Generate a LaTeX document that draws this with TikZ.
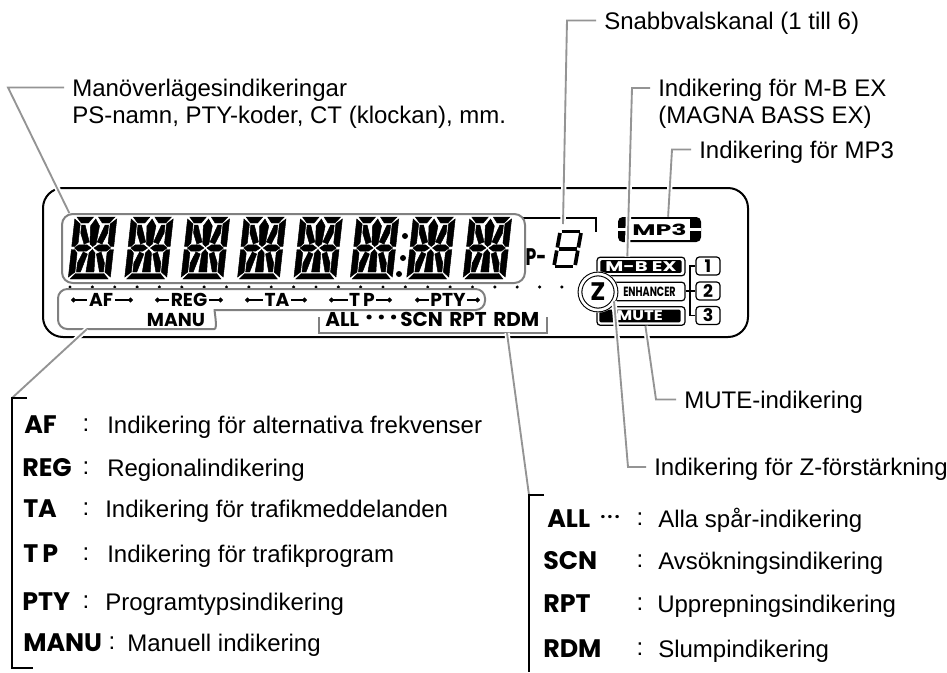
\documentclass[tikz,border=0pt]{standalone}
\usepackage{fontspec}
\setmainfont{Liberation Sans}
\newfontfamily\lcdfont{Poppins}
\usetikzlibrary{arrows.meta,calc}
% one 14-segment character, origin at its top left corner
\newcommand{\lcdchar}{%
  \filldraw[line width=.35pt] (2,0)--(18.5,0)--(14,6)--(7,6)--cycle (23.5,0)--(40,0)--(35,6)--(28,6)--cycle
    (21,2)--(25.5,9)--(24,27)--(21,29.5)--(18,27)--(16.5,9)--cycle
    (0,2)--(6,7)--(6,26)--(3,29.5)--(0,29.5)--cycle (0,32.5)--(3,32.5)--(6,36)--(6,55)--(0,60)--cycle
    (42,2)--(36,7)--(36,26)--(39,29.5)--(42,29.5)--cycle (42,32.5)--(39,32.5)--(36,36)--(36,55)--(42,60)--cycle
    (7.5,8)--(11,8)--(17,25)--(12,27)--(7.5,16)--cycle (34.5,8)--(31,8)--(25,25)--(30,27)--(34.5,16)--cycle
    (3,31)--(7,27.8)--(15,27.8)--(19.5,31)--(15,34.2)--(7,34.2)--cycle (22.5,31)--(27,27.8)--(35,27.8)--(39,31)--(35,34.2)--(27,34.2)--cycle
    (21,32.5)--(24,36)--(25,55)--(17,55)--(18,36)--cycle
    (12,35)--(16.5,37)--(11.5,55)--(7.5,55)--(7.5,46)--cycle (30,35)--(25.5,37)--(30.5,55)--(34.5,55)--(34.5,46)--cycle
    (2,62)--(40,62)--(35,56.5)--(7,56.5)--cycle;}
\begin{document}
\begin{tikzpicture}[x=.75pt,y=-.75pt,
  lab/.style={anchor=west, inner sep=0pt, inner xsep=6pt, text height=13pt, text depth=0pt, font=\fontsize{18}{20}\selectfont},
  desc/.style={anchor=west, inner sep=0pt, text height=13pt, text depth=0pt, font=\fontsize{18}{20}\selectfont},
  leader/.style={draw=black!42, line width=1.4pt, preaction={draw=white, line width=4pt}},
  legline/.style={draw=black, line width=.9pt},
  grayln/.style={draw=black!50, line width=1.5pt},
  lcdlab/.style={font=\lcdfont\bfseries\fontsize{14}{16}\selectfont, inner sep=1pt},
  lcdrow/.style={anchor=west, inner sep=0pt, font=\lcdfont\bfseries\fontsize{15}{17}\selectfont},
  dotline/.style={{Circle[length=3.6pt]}-, line width=.8pt},
  keyl/.style={anchor=west, inner sep=0pt, text height=13.3pt, text depth=0pt, font=\lcdfont\bfseries\fontsize{19}{21}\selectfont},
  mbox/.style={draw=black, line width=.9pt, fill=white, rounded corners=2.5pt, minimum width=66pt, minimum height=14pt, inner sep=0pt},
  minner/.style={fill=black, text=white, rounded corners=1pt, minimum width=61pt, minimum height=9.5pt, inner sep=0pt, font=\lcdfont\bfseries\fontsize{10.5}{12}\selectfont},
  numbox/.style={draw=black, line width=.9pt, fill=white, rounded corners=2.5pt, minimum width=18pt, minimum height=13.5pt, inner sep=0pt, font=\lcdfont\bfseries\fontsize{13}{15}\selectfont}]
\useasboundingbox (0,0) rectangle (947,672);
% frame of the display
\node[draw, line width=1.5pt, rounded corners=15pt, minimum width=528.75pt, minimum height=111.75pt] (lcd) at (395.5,262.5) {};
\draw[line width=1.1pt] (523,218) -- (596,218) -- (596,232);
% characters
\foreach \i in {0,...,7} {
  \begin{scope}[shift={({75+56.4*\i},217)},xslant=.11]
    \lcdchar
  \end{scope}
}
\fill (405,236) circle (3) (403,258) circle (3) (399,274) circle (3);
\node[draw=black!50, line width=1.5pt, rounded corners=8pt, minimum width=347.25pt, minimum height=51.75pt] (segbox) at (293.5,248.5) {};
\foreach \i in {0,...,22} \fill ({70+22.36*\i},287) circle (1.7);
% lower group
\draw[grayln, rounded corners=7pt] (300,289) -- (485,289) -- (485,310) -- (224,310) .. controls (214,310) and (218,329) .. (205,329) -- (58,329) -- (58,289) -- cycle;
\foreach \nm/\txt/\cx/\la/\lb in {af/AF/101/71/133, reg/REG/189/155/223, ta/TA/277/245/307, tp/T\,P/362/329/392, pty/PTY/448/415/480} {
  \node[lcdlab] (\nm) at (\cx,300) {\txt};
  \coordinate (\nm l) at (\la,300);
  \coordinate (\nm r) at (\lb,300);
  \draw[dotline] (\nm l) -- (\nm);
  \draw[dotline] (\nm r) -- (\nm);
}
\node[lcdlab] (manu) at (176,320) {MANU};
\node[lcdrow] (all) at (325,319) {ALL};
\node[lcdrow, font=\lcdfont\bfseries\fontsize{19}{21}\selectfont] (alldots) at (365,320) {·\hspace{3.6pt}·\hspace{3.6pt}·};
\node[lcdrow] (scn) at (400,319) {SCN};
\node[lcdrow] (rpt) at (449,319) {RPT};
\node[lcdrow] (rdm) at (493,319) {RDM};
\draw[grayln] (319,317) -- (319,333) -- (547,333) -- (547,317);
% channel
\node[font=\lcdfont\bfseries\fontsize{18}{20}\selectfont, inner sep=0pt] (pch) at (536,257) {\scalebox{.72}[1]{P-}};
\begin{scope}[shift={(559,230)},xslant=.18,line width=2.8pt]
  \draw (3,1.5) -- (21,1.5) (3,19) -- (21,19) (3,36.5) -- (21,36.5);
  \draw (1.5,3) -- (1.5,17.5) (1.5,20.5) -- (1.5,35) (22.5,3) -- (22.5,17.5) (22.5,20.5) -- (22.5,35);
\end{scope}
% mp3
\node[fill=black, rounded corners=3.5pt, minimum width=62.25pt, minimum height=18.75pt, inner sep=0pt] (mp3box) at (659.5,229.5) {};
\draw[white, line width=1.8pt] (mp3box.west) -- (mp3box.east);
\node[fill=white, minimum width=45pt, minimum height=15.5pt, inner sep=0pt, font=\lcdfont\bfseries\fontsize{11.5}{13}\selectfont] (mp3txt) at (659.5,229.5) {\scalebox{1.65}[1]{MP3}};
% sound boxes
\node[mbox] (mbbox) at (641,266.5) {};
\node[minner] (mbtxt) at (641,266.5) {\scalebox{1.4}[1]{M-B EX}};
\node[mbox] (enhbox) at (641,291.5) {};
\node[inner sep=0pt, font=\lcdfont\bfseries\fontsize{10}{12}\selectfont] (enhtxt) at (649.5,291.5) {\scalebox{.72}[1]{ENHANCER}};
\node[mbox] (mutebox) at (641,316) {};
\node[minner] (mutetxt) at (640,316) {\scalebox{1.18}[1]{MUTE}};
\foreach \n/\yy in {1/266,2/291,3/315.5} \node[numbox] (box\n) at (708,\yy) {\n};
\coordinate (junc) at (690,291);
\draw[line width=.9pt] (enhbox.east |- junc) -- (box2.west);
\draw[line width=.9pt] (box1.west) -| (junc) |- (box3.west);
% z ring
\node[circle, fill=white, minimum size=31pt, inner sep=0pt] (zback) at (598,292) {};
\node[circle, draw, line width=.8pt, double, double distance=2pt, minimum size=27pt, inner sep=0pt, fill=white, font=\lcdfont\bfseries\fontsize{19}{21}\selectfont] (zring) at (598,292) {Z};
% labels on top
\node[lab] (mano1) at (64,87.5) {Manöverlägesindikeringar};
\node[lab] (mano2) at (64,115) {PS-namn, PTY-koder, CT (klockan), mm.};
\node[lab] (snabb) at (596,20.5) {Snabbvalskanal (1 till 6)};
\node[lab] (mbex1) at (650,88) {Indikering för M-B EX};
\node[lab] (mbex2) at (650,115) {(MAGNA BASS EX)};
\node[lab] (mp3lab) at (691,149.5) {Indikering för MP3};
\node[lab] (mutelab) at (676,399.5) {MUTE-indikering};
\node[lab] (zlab) at (646,467) {Indikering för Z-förstärkning};
% leaders
\coordinate (manoc) at (8,87.5);
\coordinate (snabbc) at (567,20.5);
\coordinate (snabbe) at (563,224);
\coordinate (mbc) at (632,88);
\coordinate (mp3c) at (672,149.5);
\coordinate (mutec) at (656,399.5);
\coordinate (zc) at (628,467);
\coordinate (afe) at (87,329);
\coordinate (afb) at (12,398);
\coordinate (rde) at (507,333);
\coordinate (rdb) at (529,495);
\draw[leader] (mano1.west) -- (manoc) -- (segbox.171);
\draw[leader] (snabb.west) -- (snabbc) -- (snabbe);
\draw[leader] (mbex1.west) -- (mbc) -- (mbbox.144);
\draw[leader] (mp3lab.west) -- (mp3c) -- (mp3box.56);
\draw[leader] (mutelab.west) -- (mutec) -- (mutebox.-66);
\draw[leader] (zlab.west) -- (zc) -- (zring.-30);
\draw[leader] (afe) -- (afb);
\draw[leader] (rde) -- (rdb);
% legends
\draw[legline] (27,398) -- (afb) -- (12,668) -- (33,668);
\draw[legline] (544,495) -- (rdb) -- (529,672);
\foreach \nm/\key/\kx/\cx/\dx/\ry/\txt in {
  laf/AF/24/86/107/425/Indikering för alternativa frekvenser,
  lreg/REG/22/86/107/468/Regionalindikering,
  lta/TA/23/86/105/509/Indikering för trafikmeddelanden,
  ltp/T\,P/23/86/107/554/Indikering för trafikprogram,
  lpty/PTY/22/86/105/602/Programtypsindikering,
  lmanu/MANU/23/112/127/643/Manuell indikering,
  lall/ALL/547/640/658/519/Alla spår-indikering,
  lscn/SCN/543/640/658/561/Avsökningsindikering,
  lrpt/RPT/543/640/657/604/Upprepningsindikering,
  lrdm/RDM/543/640/658/649/Slumpindikering} {
  \node[keyl] (\nm k) at (\kx,\ry) {\key};
  \node[desc, anchor=center] (\nm c) at (\cx,\ry-2) {:};
  \node[desc] (\nm d) at (\dx,\ry) {\txt};
}
\node[lcdrow, font=\lcdfont\bfseries\fontsize{13}{15}\selectfont] (lalldots) at (600,519) {·\hspace{1.5pt}·\hspace{1.5pt}·};
\end{tikzpicture}
\end{document}
